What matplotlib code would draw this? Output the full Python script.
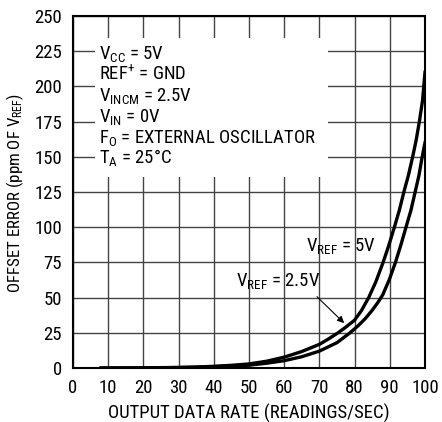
import matplotlib
matplotlib.use("Agg")
import matplotlib.pyplot as plt
from matplotlib.patches import Rectangle
from matplotlib import font_manager

# ---- data ----
rate_25 = [8, 20, 30, 35, 40, 45, 50, 55, 60, 65, 70, 72.5, 75.3, 77.5, 80, 82, 84, 86,
           88.1, 89.7, 91.3, 92.7, 94.0, 95.3, 96.5, 97.5, 98.4, 99.3, 100]
err_25 = [0, 0.1, 0.4, 0.7, 1.2, 1.9, 2.9, 4.8, 7.7, 11.7, 16.8, 20.5, 25, 29, 34, 41, 50, 61,
          75, 87, 100, 112, 125, 137, 150, 162, 175, 190, 210]
rate_5 = [8, 20, 30, 35, 40, 45, 50, 55, 60, 65, 70, 75, 78.7, 81, 83, 85, 86.6, 88.0,
          89.9, 91.6, 93.1, 94.6, 96.0, 97.2, 98.3, 99.2, 100]
err_5 = [0, 0.1, 0.3, 0.5, 0.9, 1.4, 2.0, 3.4, 5.2, 8, 12, 18, 25, 30, 35, 41, 46.5, 52,
         63, 75, 87, 100, 112, 125, 137, 150, 160]
xticks = [0, 10, 20, 30, 40, 50, 60, 70, 80, 90, 100]
yticks = [0, 25, 50, 75, 100, 125, 150, 175, 200, 225, 250]
cond_lines = [r"V$_{\mathregular{CC}}$ = 5V",
              r"REF$^{\mathregular{+}}$ = GND",
              r"V$_{\mathregular{INCM}}$ = 2.5V",
              r"V$_{\mathregular{IN}}$ = 0V",
              r"F$_{\mathregular{O}}$ = EXTERNAL OSCILLATOR",
              r"T$_{\mathregular{A}}$ = 25°C"]

names = {f.name for f in font_manager.fontManager.ttflist}
fam = "DejaVu Sans"
for cand in ["Roboto Condensed", "Liberation Sans Narrow", "Archivo Narrow",
             "Barlow Semi Condensed", "Asap Condensed"]:
    if cand in names:
        fam = cand
        break
plt.rcParams['font.family'] = [fam, 'DejaVu Sans']
plt.rcParams['mathtext.fontset'] = 'custom'
plt.rcParams['mathtext.rm'] = fam
plt.rcParams['mathtext.it'] = fam
plt.rcParams['mathtext.bf'] = fam
plt.rcParams['mathtext.default'] = 'regular'

FS = 13.5
W, H = 442, 422
fig = plt.figure(figsize=(W / 100, H / 100), dpi=100)
ax = fig.add_axes([73 / W, (H - 368) / H, 352 / W, 352 / H])
ax.set_xlim(0, 100)
ax.set_ylim(0, 250)
ax.set_xticks(xticks)
ax.set_yticks(yticks)
ax.tick_params(length=0, labelsize=FS, pad=8)
ax.set_axisbelow(True)
ax.grid(True, color='#444444', lw=1.0)
for s in ax.spines.values():
    s.set_linewidth(1.5)

ax.add_patch(Rectangle((6.3, 135.9), 66.2, 98.5, facecolor='white', edgecolor='none', zorder=1))

ax.plot(rate_25, err_25, color='black', lw=2.4, zorder=3, solid_joinstyle='round')
ax.plot(rate_5, err_5, color='black', lw=2.4, zorder=3, solid_joinstyle='round')

y0 = 219.2
for i, t in enumerate(cond_lines):
    ax.text(7.3, y0 - i * 14.77, t, fontsize=FS, va='baseline', ha='left', zorder=4)

ax.text(66.3, 83, r"V$_{\mathregular{REF}}$ = 5V", fontsize=FS, va='baseline', ha='left', zorder=4)
ax.text(46.3, 58.2, r"V$_{\mathregular{REF}}$ = 2.5V", fontsize=FS, va='baseline', ha='left', zorder=4)
ax.annotate("", xy=(77.6, 30.5), xytext=(68.75, 52),
            arrowprops=dict(arrowstyle='-|>', color='black', lw=0.8, mutation_scale=10), zorder=4)

fig.text(249 / W, (H - 419) / H, "OUTPUT DATA RATE (READINGS/SEC)", fontsize=FS,
         ha='center', va='baseline')
fig.text(15 / W, (H - 193) / H, r"OFFSET ERROR (ppm OF V$_{\mathregular{REF}}$)", fontsize=12.2,
         rotation=90, ha='center', va='center')

fig.savefig("out.png", dpi=100)
